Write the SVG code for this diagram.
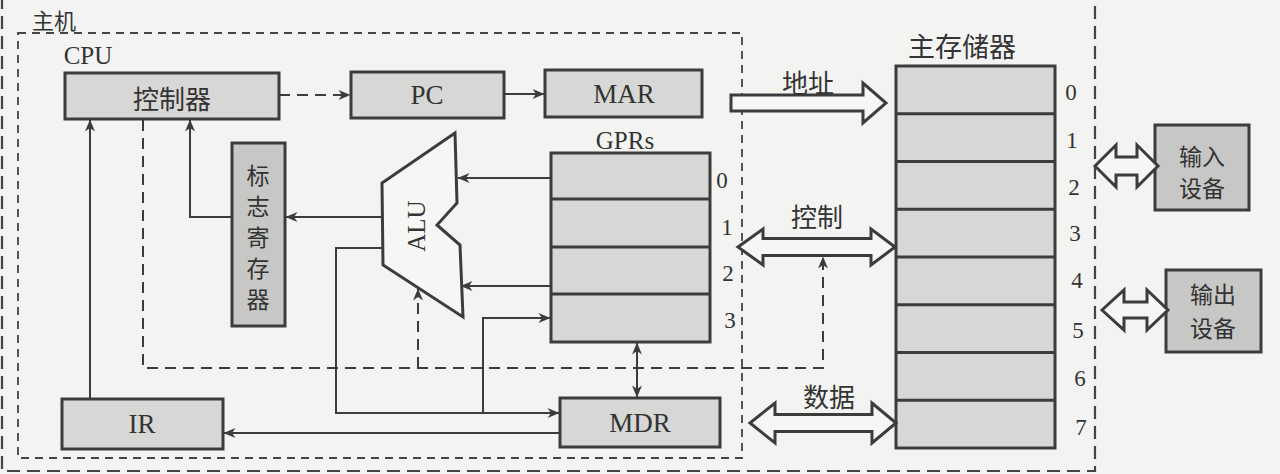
<svg xmlns="http://www.w3.org/2000/svg" width="1280" height="474" viewBox="0 0 1280 474">
<defs>
<style>
.bg{fill:#f3f3f1}
.box{fill:#d7d7d5;stroke:#3c3c3c;stroke-width:3}
.dark{fill:#c7c7c5}
.cn{font-family:"Noto Sans CJK SC","Noto Sans",sans-serif;fill:#333;text-anchor:middle;dominant-baseline:central}
.en{font-family:"Liberation Serif",serif;fill:#333;text-anchor:middle;dominant-baseline:central}
.ln{stroke:#3c3c3c;stroke-width:2;fill:none}
.dl{stroke:#3c3c3c;stroke-width:2;fill:none;stroke-dasharray:11 7}
.frame{stroke:#444;stroke-width:1.8;fill:none;stroke-dasharray:8 6}
.outer{stroke:#444;stroke-width:2.2;fill:none;stroke-dasharray:13 7}
.bus{fill:#f6f6f4;stroke:#3c3c3c;stroke-width:3;stroke-linejoin:miter}
.row{stroke:#3c3c3c;stroke-width:3}
</style>
<marker id="ah" viewBox="0 0 12 10" refX="11.5" refY="5" markerWidth="13" markerHeight="10" markerUnits="userSpaceOnUse" orient="auto-start-reverse">
<path d="M0,0 L12,5 L0,10 L3.5,5 z" fill="#3c3c3c"/>
</marker>
</defs>
<rect class="bg" x="0" y="0" width="1280" height="474"/>

<g id="host-frame">
<path class="outer" d="M2,-4 L2,471 L1095,471 L1095,-4"/>
<text class="cn" x="54" y="19" font-size="22">主机</text>
</g>

<g id="cpu-frame">
<rect class="frame" x="18" y="33" width="724" height="425"/>
<text class="en" x="88" y="55" font-size="25">CPU</text>
</g>

<g id="controller">
<rect class="box" x="65" y="73" width="214" height="46"/>
<text class="cn" x="172" y="97" font-size="26">控制器</text>
</g>

<g id="pc">
<rect class="box" x="351" y="72" width="153" height="46"/>
<text class="en" x="427" y="95" font-size="27">PC</text>
</g>

<g id="mar">
<rect class="box" x="545" y="70" width="157" height="47"/>
<text class="en" x="624" y="94" font-size="27">MAR</text>
</g>

<g id="flags">
<rect class="box dark" x="232" y="143" width="53" height="183"/>
<text class="cn" x="258" y="241" font-size="23" writing-mode="vertical-rl" letter-spacing="8">标志寄存器</text>
</g>

<g id="alu">
<polygon class="bus" points="455,133 382,183 383,265 463,317 460,245 437,225 457,203"/>
<text class="en" x="416" y="226" font-size="25" transform="rotate(-90 416 226)">ALU</text>
</g>

<g id="gprs">
<text class="en" x="625" y="140" font-size="25">GPRs</text>
<rect class="box" x="551" y="153" width="159" height="189"/>
<line class="row" x1="551" y1="199" x2="710" y2="199"/>
<line class="row" x1="551" y1="247" x2="710" y2="247"/>
<line class="row" x1="551" y1="294" x2="710" y2="294"/>
<text class="en" x="722" y="180" font-size="23">0</text>
<text class="en" x="727" y="227" font-size="23">1</text>
<text class="en" x="728" y="273" font-size="23">2</text>
<text class="en" x="730" y="320" font-size="23">3</text>
</g>

<g id="ir">
<rect class="box" x="62" y="399" width="161" height="50"/>
<text class="en" x="142" y="424" font-size="27">IR</text>
</g>

<g id="mdr">
<rect class="box" x="560" y="398" width="160" height="49"/>
<text class="en" x="640" y="423" font-size="27">MDR</text>
</g>

<g id="memory">
<text class="cn" x="962" y="45" font-size="27">主存储器</text>
<rect class="box" x="896" y="66" width="159" height="382"/>
<line class="row" x1="896" y1="113.75" x2="1055" y2="113.75"/>
<line class="row" x1="896" y1="161.5" x2="1055" y2="161.5"/>
<line class="row" x1="896" y1="209.25" x2="1055" y2="209.25"/>
<line class="row" x1="896" y1="257" x2="1055" y2="257"/>
<line class="row" x1="896" y1="304.75" x2="1055" y2="304.75"/>
<line class="row" x1="896" y1="352.5" x2="1055" y2="352.5"/>
<line class="row" x1="896" y1="400.25" x2="1055" y2="400.25"/>
<text class="en" x="1071" y="92" font-size="23">0</text>
<text class="en" x="1072" y="140" font-size="23">1</text>
<text class="en" x="1074" y="187" font-size="23">2</text>
<text class="en" x="1075" y="233" font-size="23">3</text>
<text class="en" x="1077" y="280" font-size="23">4</text>
<text class="en" x="1078" y="330" font-size="23">5</text>
<text class="en" x="1080" y="378" font-size="23">6</text>
<text class="en" x="1081" y="427" font-size="23">7</text>
</g>

<g id="input-device">
<rect class="box dark" x="1155" y="125" width="94" height="85"/>
<text class="cn" x="1202" y="155" font-size="23">输入</text>
<text class="cn" x="1202" y="187" font-size="23">设备</text>
</g>

<g id="output-device">
<rect class="box dark" x="1166" y="270" width="95" height="82"/>
<text class="cn" x="1213" y="293" font-size="23">输出</text>
<text class="cn" x="1213" y="327" font-size="23">设备</text>
</g>

<g id="connectors">
<line class="dl" x1="279" y1="95" x2="350" y2="95" marker-end="url(#ah)"/>
<line class="ln" x1="504" y1="94" x2="544" y2="94" marker-end="url(#ah)"/>
<line class="ln" x1="90" y1="399" x2="90" y2="120" marker-end="url(#ah)"/>
<polyline class="ln" points="232,217 190,217 190,120" marker-end="url(#ah)"/>
<line class="ln" x1="382" y1="217" x2="286" y2="217" marker-end="url(#ah)"/>
<line class="ln" x1="551" y1="178" x2="458" y2="178" marker-end="url(#ah)"/>
<line class="ln" x1="551" y1="286" x2="461" y2="286" marker-end="url(#ah)"/>
<polyline class="ln" points="382,248 336,248 336,413 559,413" marker-end="url(#ah)"/>
<polyline class="ln" points="483,413 483,318 550,318" marker-end="url(#ah)"/>
<line class="ln" x1="560" y1="433" x2="224" y2="433" marker-end="url(#ah)"/>
<line class="ln" x1="637" y1="343" x2="637" y2="397" marker-start="url(#ah)" marker-end="url(#ah)"/>
<polyline class="dl" points="143,120 143,368 823,368 823,257" marker-end="url(#ah)"/>
<line class="dl" x1="418" y1="368" x2="418" y2="289" marker-end="url(#ah)"/>
<polygon class="bus" points="731,95 863,95 863,83 886,103 863,123 863,111 731,111"/>
<text class="cn" x="808" y="81" font-size="26">地址</text>
<polygon class="bus" points="738,247 763,229 763,238.5 871,238.5 871,229 895,247 871,265 871,255.5 763,255.5 763,265"/>
<text class="cn" x="817" y="215" font-size="26">控制</text>
<polygon class="bus" points="750,423 775,403 775,414.5 872,414.5 872,403 896,423 872,443 872,431.5 775,431.5 775,443"/>
<text class="cn" x="829" y="395" font-size="26">数据</text>
<polygon class="bus" points="1095,166 1116,145 1116,157 1137,157 1137,145 1158,166 1137,187 1137,175 1116,175 1116,187"/>
<polygon class="bus" points="1102,310 1124,290 1124,302 1147,302 1147,290 1168,310 1147,330 1147,318 1124,318 1124,330"/>
</g>
</svg>
